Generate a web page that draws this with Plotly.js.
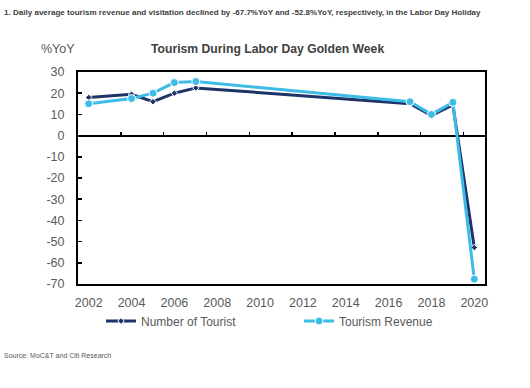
<!DOCTYPE html>
<html>
<head>
<meta charset="utf-8">
<script src="https://cdn.plot.ly/plotly-3.0.1.min.js"></script>
<style>html,body{margin:0;padding:0;background:#fff;}#chart{width:530px;height:388px;}</style>
</head>
<body>
<div id="chart"></div>
<script>
const years = [2002, 2004, 2005, 2006, 2007, 2017, 2018, 2019, 2020];
const numberOfTourist = [18, 19.5, 16, 20, 22.5, 15, 9.5, 14.5, -52.8];
const tourismRevenue = [15, 17.5, 20, 25, 25.5, 16, 10, 15.7, -67.7];
const xTickVals = [2002, 2004, 2006, 2008, 2010, 2012, 2014, 2016, 2018, 2020];
const xTickLabels = ['2002','2004','2006','2008','2010','2012','2014','2016','2018','2020'];
const yTickVals = [30, 20, 10, 0, -10, -20, -30, -40, -50, -60, -70];
const yTickLabels = ['30','20','10','0','-10','-20','-30','-40','-50','-60','-70'];

const F = 'Liberation Sans, Arial, sans-serif';
const navy = '#1c3468';
const light = '#3fbbe8';

const traces = [
  {x: years, y: numberOfTourist, name: 'Number of Tourist', type: 'scatter', mode: 'lines+markers',
   legend: 'legend',
   line: {color: navy, width: 3}, marker: {symbol: 'diamond', size: 5, color: navy, line: {color: '#fff', width: 1}}},
  {x: years, y: tourismRevenue, name: 'Tourism Revenue', type: 'scatter', mode: 'lines+markers',
   legend: 'legend2',
   line: {color: light, width: 3}, marker: {symbol: 'circle', size: 8, color: light, line: {color: '#fff', width: 1}}},
  {x: [null], y: [null], xaxis: 'x2', showlegend: false, hoverinfo: 'skip'}
];

const legendBase = {orientation: 'h', xanchor: 'left', yanchor: 'middle', y: -(321-284)/212,
  font: {family: F, size: 12, color: '#595959'}, bgcolor: 'rgba(0,0,0,0)', borderwidth: 0};

const layout = {
  width: 530, height: 388,
  margin: {l: 78, r: 45, t: 72, b: 104},
  paper_bgcolor: '#fff', plot_bgcolor: '#fff',
  font: {family: F, color: '#595959', size: 12},
  showlegend: true,
  legend: Object.assign({}, legendBase, {x: (101-78)/407}),
  legend2: Object.assign({}, legendBase, {x: (299-78)/407}),
  xaxis: {range: [2001.5, 2020.5], tickvals: xTickVals, ticktext: xTickLabels, ticks: '',
    showline: true, linecolor: '#000', linewidth: 2, mirror: true, showgrid: false, zeroline: false,
    tickfont: {family: F, size: 12.5, color: '#595959'}, ticklabelstandoff: 6},
  xaxis2: {overlaying: 'x', anchor: 'free', position: 0.7, side: 'bottom', range: [2001.5, 2020.5],
    tick0: 2003.5, dtick: 2, ticks: 'inside', ticklen: 4, tickwidth: 1.5, tickcolor: '#000',
    showticklabels: false, showline: false, showgrid: false, zeroline: false},
  yaxis: {range: [-70, 30], tickvals: yTickVals, ticktext: yTickLabels, ticks: 'inside', ticklen: 4, tickwidth: 1.5, tickcolor: '#000',
    showline: true, linecolor: '#000', linewidth: 2, mirror: true, showgrid: false,
    zeroline: true, zerolinecolor: '#000', zerolinewidth: 2,
    tickfont: {family: F, size: 12.5, color: '#595959'}, ticklabelstandoff: 9},
  annotations: [
    {text: '<b>1. Daily average tourism revenue and visitation declined by -67.7%YoY and -52.8%YoY, respectively, in the Labor Day Holiday</b>',
     xref: 'paper', yref: 'paper', x: -76/407, y: 1 + 60/212, xanchor: 'left', yanchor: 'middle', showarrow: false,
     font: {family: F, size: 8.05, color: '#404040'}},
    {text: '<b>Tourism During Labor Day Golden Week</b>', xref: 'paper', yref: 'paper',
     x: (267-78)/407, y: 1 + 23/212, xanchor: 'center', yanchor: 'middle', showarrow: false,
     font: {family: F, size: 12.2, color: '#404040'}},
    {text: '%YoY', xref: 'paper', yref: 'paper', x: (39-78)/407, y: 1 + 23/212, xanchor: 'left', yanchor: 'middle',
     showarrow: false, font: {family: F, size: 12.5, color: '#595959'}},
    {text: 'Source: MoC&T and Citi Research', xref: 'paper', yref: 'paper', x: -76/407, y: -(355-284)/212,
     xanchor: 'left', yanchor: 'middle', showarrow: false, font: {family: F, size: 7, color: '#595959'}}
  ]
};

Plotly.newPlot('chart', traces, layout, {displayModeBar: false, staticPlot: true});
</script>
</body>
</html>
